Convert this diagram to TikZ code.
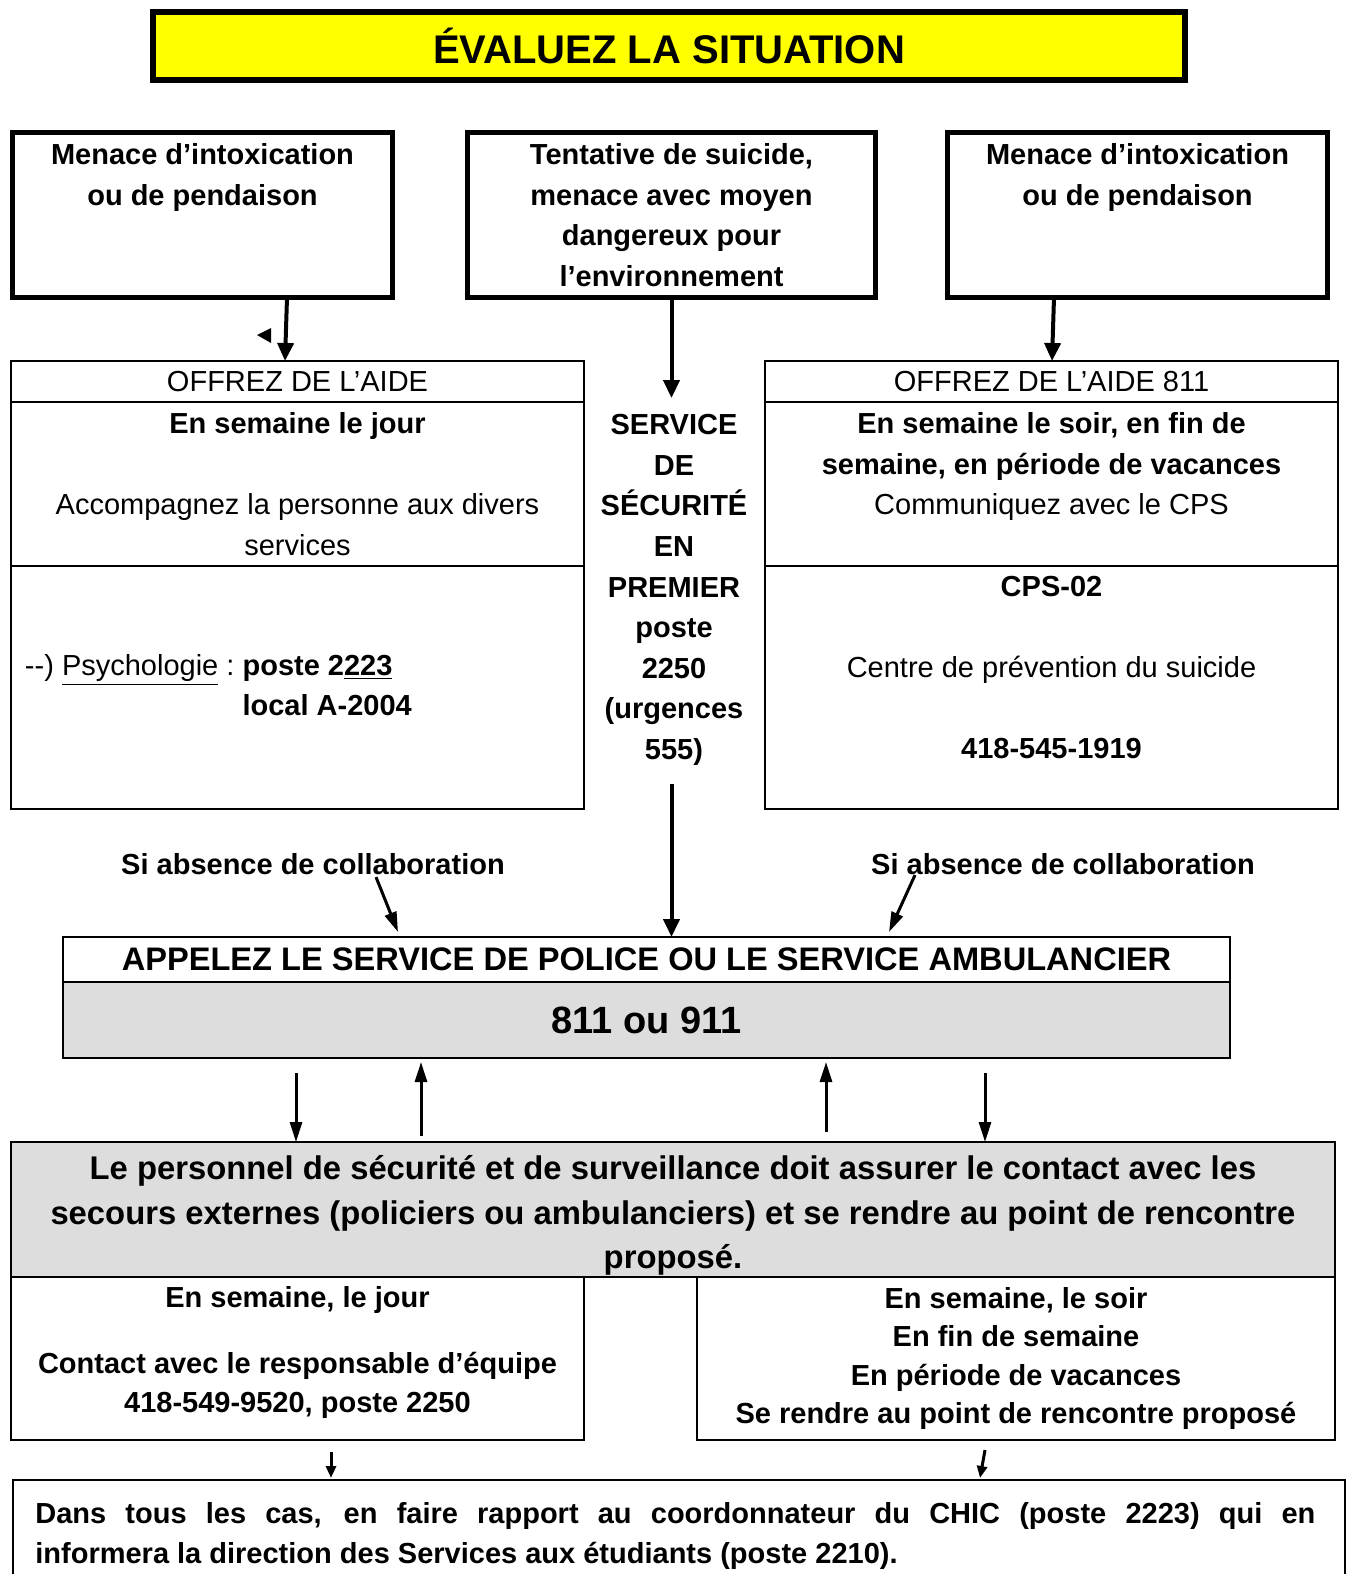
\documentclass[tikz,border=0pt]{standalone}
\usepackage{fontspec}
\setmainfont{Liberation Sans}
\usepackage{xcolor}
\usetikzlibrary{arrows.meta,positioning,calc}

\definecolor{titleyellow}{RGB}{255,255,0}
\definecolor{boxgray}{RGB}{221,221,221}

\tikzset{
	casebox/.style={draw, line width=2.5pt, outer sep=0pt, inner sep=0pt, align=center,
		minimum width=190pt, minimum height=82.5pt, font=\fontsize{14.5}{20.3}\selectfont\bfseries},
	cell/.style={draw, line width=1pt, outer sep=0pt, inner sep=0pt, align=center,
		font=\fontsize{14.5}{20.3}\selectfont},
	boldtxt/.style={inner sep=0pt, align=center, font=\fontsize{14.5}{20.3}\selectfont\bfseries},
	bigflow/.style={line width=2pt, -{Triangle[length=9pt,width=8pt]}},
	flow/.style={line width=1.5pt, -{Triangle[length=10pt,width=6pt]}},
	smallflow/.style={line width=1.5pt, -{Triangle[length=6pt,width=5pt]}}
}

\begin{document}
\begin{tikzpicture}[x=0.5pt,y=-0.5pt]
		\useasboundingbox (0,0) rectangle (1349,1574);
		
		% title
		\node[draw, line width=3pt, fill=titleyellow, minimum width=516pt, minimum height=34pt,
		font=\fontsize{20}{24}\selectfont\bfseries] (title) at (669,46) {ÉVALUEZ LA SITUATION};
		
		% the three cases
		\node[casebox] (tl) at (202.5,215) {Menace d'intoxication\\ou de pendaison\\~\\~};
		\node[casebox, minimum width=204pt] (tm) at (671.5,215) {Tentative de suicide,\\menace avec moyen\\dangereux pour\\l'environnement};
		\node[casebox] (tr) at (1137.5,215) {Menace d'intoxication\\ou de pendaison\\~\\~};
		
		% left help box
		\node[cell, minimum width=286.5pt, minimum height=20.5pt] (offLa) at (297.5,381.5) {OFFREZ DE L'AIDE};
		\node[cell, minimum width=286.5pt, minimum height=82pt, below=0pt of offLa] (offLb)
		{\textbf{En semaine le jour}\\~\\Accompagnez la personne aux divers\\services};
		\node[cell, minimum width=286.5pt, minimum height=121.5pt, below=0pt of offLb] (offLc)
		{\makebox[272.5pt][l]{\begin{tabular}{@{}l@{}l@{}}
				-{}-) \underline{Psychologie} :~ & \textbf{poste 2\underline{223}}\\
				& \textbf{local A-2004}
		\end{tabular}}};
		
		% right help box
		\node[cell, minimum width=286.5pt, minimum height=20.5pt] (offRa) at (1051.5,381.5) {OFFREZ DE L'AIDE 811};
		\node[cell, minimum width=286.5pt, minimum height=82pt, below=0pt of offRa] (offRb)
		{\textbf{En semaine le soir, en fin de}\\\textbf{semaine, en période de vacances}\\Communiquez avec le CPS\\~};
		\node[cell, minimum width=286.5pt, minimum height=121.5pt, below=0pt of offRb] (offRc)
		{\textbf{CPS-02}\\~\\Centre de prévention du suicide\\~\\\textbf{418-545-1919}\\~};
		
		% security service in the middle
		\node[boldtxt] (svc) at (674,590) {SERVICE\\DE\\SÉCURITÉ\\EN\\PREMIER\\poste\\2250\\(urgences\\555)};
		
		\node[boldtxt] (siL) at (313,864) {Si absence de collaboration};
		\node[boldtxt] (siR) at (1063,864) {Si absence de collaboration};
		
		% police / ambulance
		\node[cell, minimum width=583.5pt, minimum height=22.5pt, font=\fontsize{16.3}{20}\selectfont\bfseries] (polA) at (646.5,959.5)
		{APPELEZ LE SERVICE DE POLICE OU LE SERVICE AMBULANCIER};
		\node[cell, fill=boxgray, minimum width=583.5pt, minimum height=38pt, below=0pt of polA,
		font=\fontsize{19}{22}\selectfont\bfseries] (polB) {811 ou 911};
		
		% security staff
		\node[cell, fill=boxgray, minimum width=662pt, minimum height=67.5pt] (grayb) at (673,1209.5) {};
		\node[boldtxt, font=\fontsize{16.4}{22.3}\selectfont\bfseries] (graybt) at ($(grayb.center)+(0,6)$)
		{Le personnel de sécurité et de surveillance doit assurer le contact avec les\\
			secours externes (policiers ou ambulanciers) et se rendre au point de rencontre\\
			proposé.};
		\node[cell, anchor=north west, minimum width=286.5pt, minimum height=81.5pt,
		font=\fontsize{14.5}{19.25}\selectfont\bfseries] (botL) at (grayb.south west)
		{En semaine, le jour\\[14pt]Contact avec le responsable d'équipe\\418-549-9520, poste 2250\\[-10pt]~};
		\node[cell, anchor=north east, minimum width=319pt, minimum height=81.5pt,
		font=\fontsize{14.5}{19.25}\selectfont\bfseries] (botR) at (grayb.south east)
		{En semaine, le soir\\En fin de semaine\\En période de vacances\\Se rendre au point de rencontre proposé};
		
		% final report
		\node[cell, anchor=north, minimum width=666pt, minimum height=100pt] (fin) at (679,1480) {};
		\node[boldtxt, anchor=north west, text width=640pt, align=justify, font=\fontsize{14.5}{20}\selectfont\bfseries] (fint) at (35,1502)
		{Dans tous les cas, en faire rapport au coordonnateur du CHIC (poste 2223) qui en\linebreak
			informera la direction des Services aux étudiants (poste 2210).};
		
		% draw the arrows
		\draw[bigflow] ($(tl.south)+(84.5,0)$) -- ($(offLa.north)+(-12.5,0)$);
		\fill (257,335) -- (271,328) -- (271,343) -- cycle;
		\draw[bigflow] (tm.south) -- ($(tm.south |- svc.north)+(0,-16)$);
		\draw[bigflow] ($(tr.south)+(-83.5,0)$) -- ($(offRa.north)+(0.5,0)$);
		\draw[bigflow] ($(tm.south |- svc.south)+(0,18)$) -- (tm.south |- polA.north);
		
		\draw[flow] ($(siL.south)+(63,2)$) -- ($(polA.north)+(-248.5,-5)$);
		\draw[flow] ($(siR.south)+(-148,0)$) -- ($(polA.north)+(242.5,-5)$);
		
		\draw[flow] ($(polB.south)+(-350.5,15)$) -- ($(grayb.north)+(-377,0)$);
		\draw[flow] ($(grayb.north)+(-252,-6)$) -- ($(polB.south)+(-225.5,4)$);
		\draw[flow] ($(grayb.north)+(153,-10)$) -- ($(polB.south)+(179.5,4)$);
		\draw[flow] ($(polB.south)+(338.5,15)$) -- ($(grayb.north)+(312,0)$);
		
		\draw[smallflow] ($(botL.south)+(33.5,12)$) -- ($(fin.north)+(-348,-2)$);
		\draw[smallflow] ($(botR.south)+(-31,10)$) -- ($(fin.north)+(301,-2)$);
\end{tikzpicture}
\end{document}
